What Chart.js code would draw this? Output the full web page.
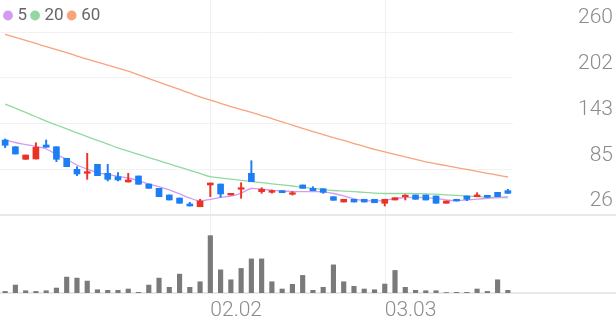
<!DOCTYPE html>
<html>
<head>
<meta charset="utf-8">
<script src="https://cdn.jsdelivr.net/npm/chart.js@4.4.1/dist/chart.umd.min.js"></script>
<style>
  html, body { margin: 0; padding: 0; background: #fff; }
</style>
</head>
<body>
<canvas id="chart" width="616" height="321"></canvas>
<script>
// trading days shown (MM.DD)
const dates = [
  '01.05', '01.06', '01.07', '01.08', '01.09', '01.12', '01.13', '01.14', '01.15', '01.16',
  '01.19', '01.20', '01.21', '01.22', '01.23', '01.26', '01.27', '01.28', '01.29', '01.30',
  '02.02', '02.03', '02.04', '02.05', '02.06', '02.09', '02.10', '02.11', '02.12', '02.13',
  '02.19', '02.20', '02.23', '02.24', '02.25', '02.26', '02.27',
  '03.03', '03.04', '03.05', '03.06', '03.09', '03.10', '03.11', '03.12', '03.13',
  '03.16', '03.17', '03.18', '03.19'
]

const opens = [
  121.9, 113.3, 97.2, 97.6, 115.5, 113.3, 98.5, 84.4, 79.3, 90.8,
  79.3, 75.0, 68.2, 75.9, 65.6, 60.1, 51.6, 47.7, 40.1, 36.6,
  64.4, 65.6, 51.6, 58.9, 79.3, 55.8, 55.0, 57.1, 52.5, 64.4,
  60.1, 59.6, 49.4, 42.6, 46.1, 46.1, 46.1,
  41.0, 45.2, 49.4, 51.6, 51.6, 50.3, 41.0, 46.1, 50.3,
  49.4, 51.2, 55.0, 57.1
]
const highs = [
  123.2, 113.3, 102.7, 118.4, 121.9, 113.3, 98.5, 87.8, 104.9, 90.8,
  90.8, 80.1, 79.3, 75.9, 65.6, 60.1, 51.6, 47.7, 42.2, 46.1,
  66.9, 65.6, 53.7, 67.3, 95.4, 60.9, 58.0, 57.1, 56.0, 64.4,
  62.2, 59.6, 49.4, 46.1, 46.1, 46.1, 46.1,
  46.1, 48.1, 52.0, 51.6, 51.6, 50.3, 43.9, 46.1, 50.3,
  54.5, 51.2, 55.0, 58.9
]
const lows = [
  112.1, 104.0, 97.2, 97.6, 112.6, 94.2, 87.8, 76.3, 71.6, 76.3,
  69.5, 69.5, 68.2, 65.3, 60.1, 49.4, 45.2, 41.0, 37.5, 36.6,
  49.4, 48.6, 51.6, 47.4, 68.6, 53.7, 54.0, 54.5, 51.5, 60.1,
  57.1, 53.7, 44.8, 42.6, 42.6, 42.6, 41.7,
  37.5, 45.2, 45.2, 46.1, 45.2, 41.0, 41.0, 43.9, 44.3,
  49.4, 48.6, 49.4, 53.7
]
const closes = [
  115.1, 104.0, 102.7, 112.6, 112.6, 97.2, 87.8, 78.4, 81.4, 76.3,
  71.6, 70.8, 70.8, 65.3, 60.1, 49.4, 45.2, 41.0, 37.5, 43.9,
  66.9, 52.9, 53.7, 60.9, 68.6, 58.9, 57.1, 54.5, 54.5, 60.1,
  57.1, 55.0, 44.8, 46.1, 42.6, 42.6, 41.7,
  46.1, 48.1, 51.2, 46.1, 45.2, 41.0, 43.9, 43.9, 46.1,
  51.6, 48.6, 49.4, 53.7
]
// volume, thousand shares
const volumes = [
  16, 80, 23, 16, 23, 50, 160, 150, 120, 33,
  27, 27, 40, 7, 80, 150, 57, 190, 57, 113,
  577, 233, 133, 247, 343, 343, 113, 40, 87, 177,
  27, 57, 283, 113, 67, 40, 33,
  90, 227, 57, 27, 23, 23, 5, 7, 7,
  40, 16, 133, 27
]

const ma5 = [
  121.9, 118.7, 116.1, 113.6, 110.4, 103.4, 97.0, 89.9, 84.8, 80.3,
  77.8, 75.5, 73.3, 70.1, 65.6, 62.4, 58.0, 52.9, 47.7, 43.9,
  46.1, 48.4, 50.3, 54.1, 59.9, 58.9, 57.6, 56.7, 56.1, 55.8,
  55.8, 55.7, 53.5, 50.3, 46.5, 44.5, 43.9,
  44.8, 47.1, 48.4, 48.6, 48.1, 47.1, 45.2, 44.5, 45.2,
  46.2, 47.4, 48.4, 49.4
]
const ma20 = [
  167.9, 162.6, 157.1, 151.6, 146.1, 141.1, 136.1, 131.1, 126.2, 121.4,
  116.7, 111.9, 107.6, 103.6, 99.5, 95.4, 91.3, 87.2, 83.2, 79.1,
  75.0, 73.4, 71.9, 70.4, 68.8, 67.4, 65.9, 64.5, 63.1, 61.5,
  60.1, 58.7, 57.3, 56.6, 55.8, 55.0, 54.1,
  53.5, 53.5, 53.5, 53.4, 53.1, 52.6, 51.8, 51.1, 50.3,
  49.5, 48.9, 48.4, 48.0
]
const ma60 = [
  257.1, 253.1, 249.3, 245.3, 241.3, 237.4, 233.7, 229.3, 225.3, 221.5,
  217.7, 213.8, 210.0, 205.3, 200.5, 195.8, 191.1, 186.5, 181.7, 177.0,
  172.9, 168.8, 164.7, 160.9, 157.1, 153.2, 149.3, 145.0, 141.0, 136.7,
  132.6, 128.8, 125.0, 121.3, 117.4, 113.7, 109.9,
  106.6, 103.4, 100.3, 97.1, 94.0, 91.5, 89.0, 86.6, 84.2,
  81.8, 79.3, 77.0, 74.6
]

const maLabels = ['5', '20', '60']
const monthTicks = ['02.02', '03.03']
const priceTickLabels = ['26', '85', '143', '202', '260']
const priceMin = 26
const priceMax = 260

const UP = '#eb3323'
const DOWN = '#1b7ef4'
const candleColors = opens.map((o, i) => closes[i] >= o ? UP : DOWN)
const axisFont = { family: 'Roboto', size: 21, weight: 300 }

// full-width pane borders + month lines reaching the top of the canvas
const paneLines = {
  id: 'paneLines',
  beforeDatasetsDraw(chart) {
    const { ctx, scales: { x, y, yv } } = chart
    ctx.save()
    ctx.strokeStyle = '#efefef'
    ctx.lineWidth = 1
    x.ticks.forEach((t, i) => {
      const px = Math.round(x.getPixelForTick(i)) + 0.5
      ctx.beginPath()
      ctx.moveTo(px, 0)
      ctx.lineTo(px, yv.bottom)
      ctx.stroke()
    })
    ctx.strokeStyle = '#e8e8e8'
    ctx.lineWidth = 2
    for (const py of [y.bottom, yv.bottom]) {
      ctx.beginPath()
      ctx.moveTo(0, py)
      ctx.lineTo(chart.width, py)
      ctx.stroke()
    }
    ctx.restore()
  }
}

// labels overhang freely, they should not shrink the plot
const noEdgePadding = scale => {
  scale.paddingTop = 0
  scale.paddingBottom = 0
  scale.paddingLeft = 0
  scale.paddingRight = 0
}

function maLine(label, data, color) {
  return {
    type: 'line', label, data,
    borderColor: color, backgroundColor: color,
    borderWidth: 1.3, pointRadius: 0, tension: 0.3,
    yAxisID: 'y', order: 3
  }
}

const ctx = document.getElementById('chart').getContext('2d')

const chart = new Chart(ctx, {
  type: 'bar',
  data: {
    labels: dates,
    datasets: [
      maLine(maLabels[0], ma5, '#d39bf0'),
      maLine(maLabels[1], ma20, '#92d9a0'),
      maLine(maLabels[2], ma60, '#f7a47d'),
      {
        label: 'wick',
        data: lows.map((l, i) => [l, highs[i]]),
        backgroundColor: candleColors,
        barThickness: 1.3, grouped: false, yAxisID: 'y', order: 2
      },
      {
        label: 'body',
        data: opens.map((o, i) => [o, closes[i]]),
        backgroundColor: candleColors,
        barThickness: 6, minBarLength: 1.5, grouped: false, yAxisID: 'y', order: 1
      },
      {
        label: 'volume',
        data: volumes,
        backgroundColor: '#7a7a7a',
        barThickness: 4.5, grouped: false, yAxisID: 'yv', order: 1
      }
    ]
  },
  options: {
    responsive: false,
    animation: false,
    devicePixelRatio: 1,
    layout: { padding: { left: 0, right: 3, top: 0, bottom: 0 } },
    plugins: {
      legend: {
        position: 'top',
        align: 'start',
        maxHeight: 32,
        labels: {
          usePointStyle: true,
          pointStyle: 'circle',
          boxWidth: 2,
          boxHeight: 6,
          padding: 7,
          color: '#666',
          font: { family: 'Roboto', size: 17 },
          filter: item => maLabels.includes(item.text)
        }
      },
      tooltip: { enabled: false }
    },
    scales: {
      x: {
        type: 'category',
        offset: true,
        grid: { display: false },
        border: { display: false },
        afterBuildTicks: scale => {
          scale.ticks = scale.ticks.filter(t => monthTicks.includes(dates[t.value]))
        },
        afterFit: scale => {
          noEdgePadding(scale)
          scale.height = 28
        },
        ticks: {
          align: 'start', autoSkip: false, maxRotation: 0, padding: -3,
          color: '#8c8c8c', font: axisFont
        }
      },
      y: {
        position: 'right',
        stack: 'panes',
        stackWeight: 183,
        min: priceMin,
        max: priceMax,
        afterBuildTicks: scale => {
          const step = (priceMax - priceMin) / (priceTickLabels.length - 1)
          scale.ticks = priceTickLabels.map((_, i) => ({ value: priceMin + i * step }))
        },
        afterFit: scale => {
          noEdgePadding(scale)
          scale.width = 100
        },
        grid: { color: '#f2f2f2', drawTicks: false },
        border: { display: false },
        ticks: {
          autoSkip: false, crossAlign: 'far', padding: 0, labelOffset: -14,
          color: '#8c8c8c', font: axisFont,
          callback: (v, i) => priceTickLabels[i]
        }
      },
      yv: {
        position: 'right',
        stack: 'panes',
        stackWeight: 78,
        min: 0,
        max: Math.max(...volumes) * 1.36,
        afterFit: noEdgePadding,
        grid: { display: false },
        border: { display: false },
        ticks: { display: false }
      }
    }
  },
  plugins: [paneLines]
})
</script>
</body>
</html>
